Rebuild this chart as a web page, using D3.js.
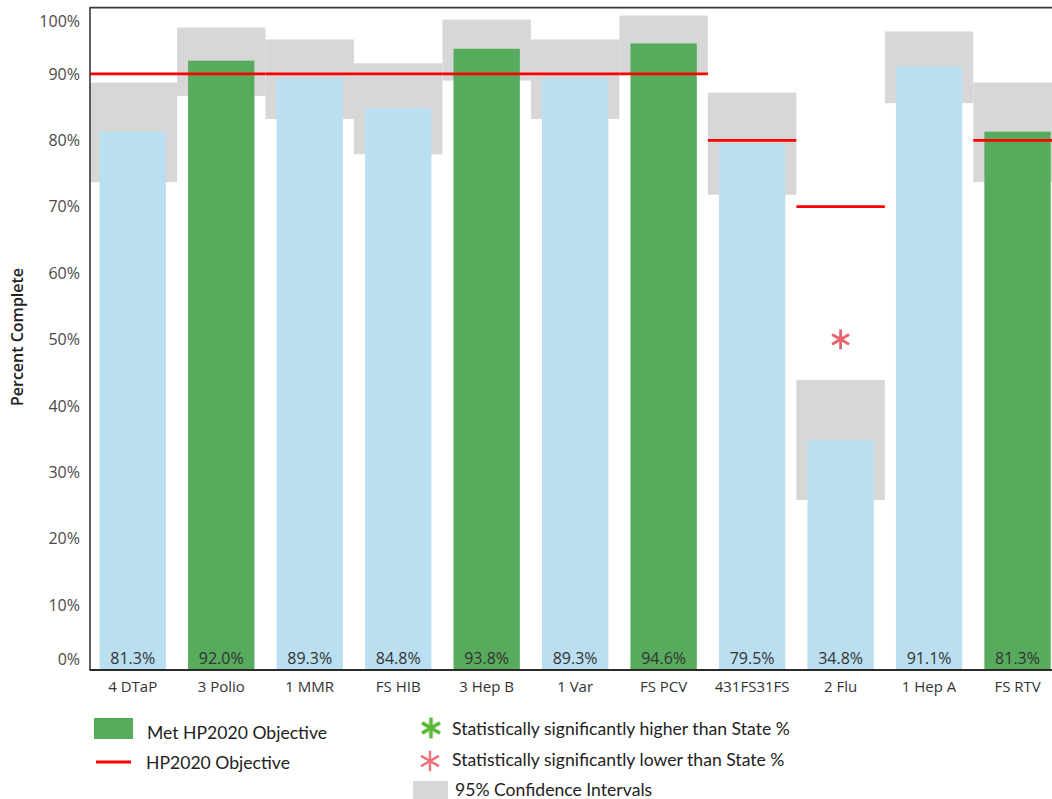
<!DOCTYPE html>
<html>
<head>
<meta charset="utf-8">
<script src="https://cdn.jsdelivr.net/npm/d3@7"></script>
<style>
  html, body { margin: 0; padding: 0; background: #ffffff; }
  svg { display: block; }
</style>
</head>
<body>
<svg id="chart" width="1052" height="799"></svg>
<script>
// Vaccine series completion rates with 95% confidence intervals and HP2020 targets
const categories = ["4 DTaP", "3 Polio", "1 MMR", "FS HIB", "3 Hep B", "1 Var", "FS PCV", "431FS31FS", "2 Flu", "1 Hep A", "FS RTV"];
const percentComplete = [81.3, 92.0, 89.3, 84.8, 93.8, 89.3, 94.6, 79.5, 34.8, 91.1, 81.3];
const ciLower = [73.7, 86.7, 83.2, 77.9, 89.0, 83.2, 89.9, 71.8, 25.8, 85.6, 73.7];
const ciUpper = [88.7, 97.0, 95.2, 91.6, 98.2, 95.2, 98.8, 87.2, 43.9, 96.4, 88.7];
const hp2020Objective = [90, 90, 90, 90, 90, 90, 90, 80, 70, null, 80];
const stateComparison = [null, null, null, null, null, null, null, null, "lower", null, null];
const markerLevel = 50;
const yTicks = [0, 10, 20, 30, 40, 50, 60, 70, 80, 90, 100];

const colors = {
  met: "#57ab5d",
  notMet: "#badff0",
  ci: "#d7d7d7",
  objective: "#ff0000",
  lower: "#e8636b",
  higher: "#5cb636",
  text: "#333333",
  tick: "#4a4a4a"
};

const svg = d3.select("#chart");

// plot frame
const frame = { left: 90, top: 7.6, right: 1052, bottom: 670 };

const y = d3.scaleLinear().domain([0, 100]).range([671.2, 7.6]);
const xBand = d3.scaleBand().domain(categories).range([88.5, 1061.8]).padding(0);
const xBar = d3.scaleBand().domain(categories).range([88.5, 1061.8])
  .paddingInner(0.25).paddingOuter(0.125);

const rows = categories.map((c, i) => ({
  cat: c,
  value: percentComplete[i],
  lo: ciLower[i],
  hi: ciUpper[i],
  obj: hp2020Objective[i],
  sig: stateComparison[i],
  met: hp2020Objective[i] != null && percentComplete[i] >= hp2020Objective[i]
}));

svg.append("defs").append("clipPath").attr("id", "plot-clip")
  .append("rect")
  .attr("x", frame.left).attr("y", frame.top)
  .attr("width", frame.right - frame.left).attr("height", frame.bottom - frame.top);

const plot = svg.append("g").attr("clip-path", "url(#plot-clip)");

// confidence interval boxes span the full category band
plot.append("g").selectAll("rect").data(rows).join("rect")
  .attr("x", d => xBand(d.cat))
  .attr("width", xBand.bandwidth())
  .attr("y", d => y(d.hi))
  .attr("height", d => y(d.lo) - y(d.hi))
  .attr("fill", colors.ci);

// completion bars
plot.append("g").selectAll("rect").data(rows).join("rect")
  .attr("x", d => xBar(d.cat))
  .attr("width", xBar.bandwidth())
  .attr("y", d => y(d.value))
  .attr("height", d => y(0) - y(d.value))
  .attr("fill", d => d.met ? colors.met : colors.notMet);

// HP2020 objective segments
plot.append("g").selectAll("line").data(rows.filter(d => d.obj != null)).join("line")
  .attr("x1", d => xBand(d.cat))
  .attr("x2", d => xBand(d.cat) + xBand.bandwidth())
  .attr("y1", d => y(d.obj))
  .attr("y2", d => y(d.obj))
  .attr("stroke", colors.objective)
  .attr("stroke-width", 2.8);

// significance markers
const asterisk = d3.symbol().type(d3.symbolAsterisk).size(270);
plot.append("g").selectAll("path").data(rows.filter(d => d.sig)).join("path")
  .attr("d", asterisk)
  .attr("transform", d => `translate(${xBand(d.cat) + xBand.bandwidth() / 2},${y(markerLevel)})`)
  .attr("fill", "none")
  .attr("stroke", d => d.sig === "lower" ? colors.lower : colors.higher)
  .attr("stroke-width", 2.8);

// value labels at the foot of each bar
svg.append("g").selectAll("text").data(rows).join("text")
  .attr("x", d => xBar(d.cat) + xBar.bandwidth() / 2)
  .attr("y", 664)
  .attr("text-anchor", "middle")
  .attr("font-family", "'Open Sans', sans-serif")
  .attr("font-size", 16)
  .attr("fill", colors.text)
  .text(d => d.value.toFixed(1) + "%");

// frame lines
svg.append("line").attr("x1", frame.left - 0.5).attr("x2", frame.right)
  .attr("y1", frame.top).attr("y2", frame.top)
  .attr("stroke", "#3a3a3a").attr("stroke-width", 1.6);
svg.append("line").attr("x1", frame.left).attr("x2", frame.left)
  .attr("y1", frame.top).attr("y2", frame.bottom)
  .attr("stroke", "#3a3a3a").attr("stroke-width", 1.6);
svg.append("line").attr("x1", frame.left - 0.5).attr("x2", frame.right)
  .attr("y1", frame.bottom).attr("y2", frame.bottom)
  .attr("stroke", "#2a2a2a").attr("stroke-width", 2);

// y tick labels, kept inside the frame at the extremes
svg.append("g").selectAll("text").data(yTicks).join("text")
  .attr("x", 80)
  .attr("y", v => Math.min(Math.max(y(v), 21), 659.5) + 5.8)
  .attr("text-anchor", "end")
  .attr("font-family", "'Open Sans', sans-serif")
  .attr("font-size", 16)
  .attr("fill", colors.tick)
  .text(v => v + "%");

// x category labels
svg.append("g").selectAll("text").data(categories).join("text")
  .attr("x", c => xBar(c) + xBar.bandwidth() / 2)
  .attr("y", 692)
  .attr("text-anchor", "middle")
  .attr("font-family", "'Open Sans', sans-serif")
  .attr("font-size", 15)
  .attr("fill", colors.text)
  .text(c => c);

// y axis title
svg.append("text")
  .attr("transform", "translate(23,337) rotate(-90)")
  .attr("text-anchor", "middle")
  .attr("font-family", "'Open Sans', sans-serif")
  .attr("font-size", 16)
  .attr("font-weight", 600)
  .attr("fill", "#222")
  .text("Percent Complete");

// legend
const legend = svg.append("g")
  .attr("font-family", "Lato, sans-serif")
  .attr("font-size", 17.6)
  .attr("fill", "#222");

legend.append("rect").attr("x", 94).attr("y", 718).attr("width", 39).attr("height", 21)
  .attr("fill", colors.met);
legend.append("text").attr("x", 147).attr("y", 739).text("Met HP2020 Objective");

legend.append("line").attr("x1", 96).attr("x2", 131).attr("y1", 762).attr("y2", 762)
  .attr("stroke", colors.objective).attr("stroke-width", 3);
legend.append("text").attr("x", 146).attr("y", 769).text("HP2020 Objective");

const legendStar = d3.symbol().type(d3.symbolAsterisk).size(300);
legend.append("path").attr("d", legendStar).attr("transform", "translate(431,728)")
  .attr("fill", "none").attr("stroke", colors.higher).attr("stroke-width", 5).attr("opacity", 0.35);
legend.append("path").attr("d", legendStar).attr("transform", "translate(431,728)")
  .attr("fill", "none").attr("stroke", colors.higher).attr("stroke-width", 3);
legend.append("text").attr("x", 452).attr("y", 735).text("Statistically significantly higher than State %");

legend.append("path").attr("d", legendStar).attr("transform", "translate(430,761)")
  .attr("fill", "none").attr("stroke", "#ee7077").attr("stroke-width", 2.4);
legend.append("text").attr("x", 452).attr("y", 766).text("Statistically significantly lower than State %");

legend.append("rect").attr("x", 413).attr("y", 781).attr("width", 35).attr("height", 20)
  .attr("fill", colors.ci);
legend.append("text").attr("x", 455).attr("y", 796).text("95% Confidence Intervals");
</script>
</body>
</html>
